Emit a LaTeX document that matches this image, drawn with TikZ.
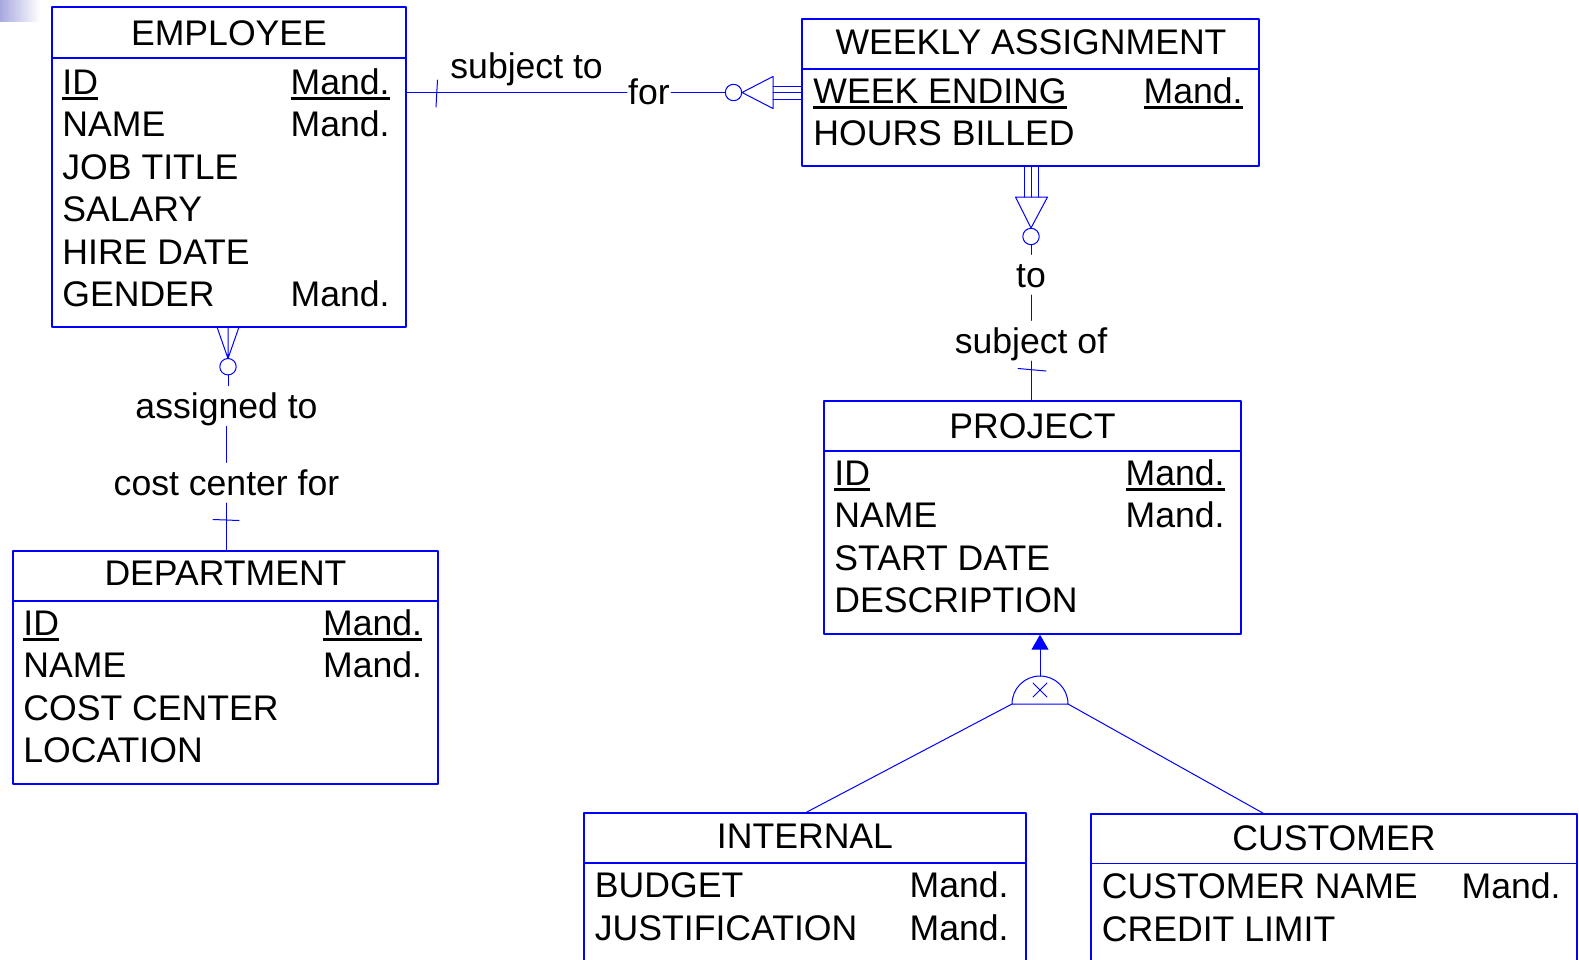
\documentclass[tikz,border=0pt]{standalone}
\usepackage{fontspec}
\setmainfont{Liberation Sans}
\usetikzlibrary{fit,calc,arrows.meta}
\definecolor{corner}{RGB}{168,168,224}
\newcommand{\uid}[1]{\setbox0\hbox{#1}\rlap{\rule[-2.8pt]{\wd0}{1.3pt}}#1}

\begin{document}
\begin{tikzpicture}[line join=round, line cap=round, x=0.5pt, y=-0.5pt, font=\fontsize{17.8}{21}\selectfont]
	\tikzset{box/.style={draw=blue, line width=0.7pt, inner sep=0pt, fit={#1}},
		divider/.style={blue, line width=0.7pt},
		rel/.style={blue, line width=0.5pt},
		att/.style={anchor=base west, inner sep=0pt},
		mand/.style={anchor=base east, inner sep=0pt},
		ttl/.style={anchor=base, inner sep=0pt},
		lbl/.style={inner xsep=0.5pt, inner ysep=0pt, text height=16.1pt, text depth=3.8pt},
		opt/.style={circle, draw=blue, line width=0.5pt, inner sep=0pt, minimum size=8.2pt}}
	\useasboundingbox (0,0) rectangle (1579,959);
	\clip (0,0) rectangle (1579,959);
	\shade[left color=corner, right color=white] (0,0) rectangle (40,21);

	\node[box={(52,7) (406,327)}] (emp) {};
	\draw[divider] (52,58) -- (406,58);
	\node[ttl] (empT) at (229,45) {EMPLOYEE};
	\foreach \t [count=\i from 0] in {\uid{ID},NAME,JOB TITLE,SALARY,HIRE DATE,GENDER}
		\node[att] (emp\i) at (62,{94+42.5*\i}) {\t};
	\node[mand] (empM0) at (390,94) {\uid{Mand.}};
	\node[mand] (empM1) at (390,136.5) {Mand.};
	\node[mand] (empM5) at (390,306.5) {Mand.};

	\node[box={(802,19) (1259,166)}] (wa) {};
	\draw[divider] (802,69) -- (1259,69);
	\node[ttl] (waT) at (1031,54) {WEEKLY ASSIGNMENT};
	\node[att] (wa0) at (813,103.3) {\uid{WEEK ENDING}};
	\node[att] (wa1) at (813,145.3) {HOURS BILLED};
	\node[mand] (waM0) at (1243,103.3) {\uid{Mand.}};

	\node[box={(824,401) (1241,634)}] (proj) {};
	\draw[divider] (824,451) -- (1241,451);
	\node[ttl] (projT) at (1032.5,438) {PROJECT};
	\foreach \t [count=\i from 0] in {\uid{ID},NAME,START DATE,DESCRIPTION}
		\node[att] (proj\i) at (834,{485.3+42.4*\i}) {\t};
	\node[mand] (projM0) at (1225,485.3) {\uid{Mand.}};
	\node[mand] (projM1) at (1225,527.7) {Mand.};

	\node[box={(13,551) (438,784)}] (dept) {};
	\draw[divider] (13,601) -- (438,601);
	\node[ttl] (deptT) at (225.5,585.7) {DEPARTMENT};
	\foreach \t [count=\i from 0] in {\uid{ID},NAME,COST CENTER,LOCATION}
		\node[att] (dept\i) at (23,{635+42.5*\i}) {\t};
	\node[mand] (deptM0) at (422.5,635) {\uid{Mand.}};
	\node[mand] (deptM1) at (422.5,677.5) {Mand.};

	\node[box={(584,813) (1026,1000)}] (int) {};
	\draw[divider] (584,863) -- (1026,863);
	\node[ttl] (intT) at (805,848) {INTERNAL};
	\node[att] (int0) at (594.5,897) {BUDGET};
	\node[att] (int1) at (594.5,940) {JUSTIFICATION};
	\node[mand] (intM0) at (1009,897) {Mand.};
	\node[mand] (intM1) at (1009,940) {Mand.};

	\node[box={(1091,814) (1577,1000)}] (cus) {};
	\draw[divider] (1091,863.5) -- (1577,863.5);
	\node[ttl] (cusT) at (1334,850.7) {CUSTOMER};
	\node[att] (cus0) at (1101.5,898) {CUSTOMER NAME};
	\node[att] (cus1) at (1101.5,941.7) {CREDIT LIMIT};
	\node[mand] (cusM0) at (1561,898) {Mand.};

	\node[lbl] (for) at (649,92.5) {for};
	\node[lbl, anchor=base west] (subjto) at (449,78.3) {subject to};
	\node[opt] (o1) at (733.5,92.5) {};
	\draw[rel] (emp.east |- for.west) -- (for.west);
	\draw[rel] (for.east) -- (o1.west);
	\draw[rel] (437.5,80) -- (436,107);
	\draw[rel] (742,92.5) -- (773,76.5) -- (773,108.5) -- cycle;
	\foreach \d in {-6.5,0,6.5}
		\draw[rel] (773,{92.5+\d}) -- (802,{92.5+\d});

	\foreach \d in {-6.5,0,7}
		\draw[rel] ({1031+\d},166) -- ({1031+\d},197);
	\draw[rel] (1015.5,197) -- (1047.5,197) -- (1031,228) -- cycle;
	\node[opt] (o2) at (1031,236.5) {};
	\node[lbl, anchor=base] (to) at (1031,287) {to};
	\node[lbl, anchor=base] (subjof) at (1031,353) {subject of};
	\draw[rel] (o2.south) -- (to.north);
	\draw[rel] (to.south) -- (subjof.north);
	\draw[rel] (subjof.south) -- (subjof.south |- proj.north);
	\draw[rel] (1018,368.5) -- (1046,371);

	\draw[rel] (217,327) -- (228,358.5) -- (239,327) (228,327) -- (228,358.5);
	\node[opt] (o3) at (228,366.7) {};
	\node[lbl, anchor=base] (asg) at (226.5,418.3) {assigned to};
	\node[lbl, anchor=base] (ccf) at (226.5,495) {cost center for};
	\draw[rel] (o3.south) -- (o3.south |- asg.north);
	\draw[rel] (asg.south) -- (ccf.north);
	\draw[rel] (ccf.south) -- (ccf.south |- dept.north);
	\draw[rel] (213,519.5) -- (239,520.5);

	\coordinate (xl) at (1012,704);
	\coordinate (xr) at (1068,704);
	\coordinate (xt) at (1040,676);
	\draw[rel] (xl) arc[start angle=180, end angle=0, radius=14pt] -- cycle;
	\draw[rel] (1033,683) -- (1047,697) (1033,697) -- (1047,683);
	\draw[rel, -{Triangle[length=7.5pt, width=8.5pt]}] (xt) -- (xt |- proj.south);
	\draw[rel] (xl) -- ([xshift=111.5pt]int.north west);
	\draw[rel] (xr) -- ([xshift=86.5pt]cus.north west);
\end{tikzpicture}
\end{document}
